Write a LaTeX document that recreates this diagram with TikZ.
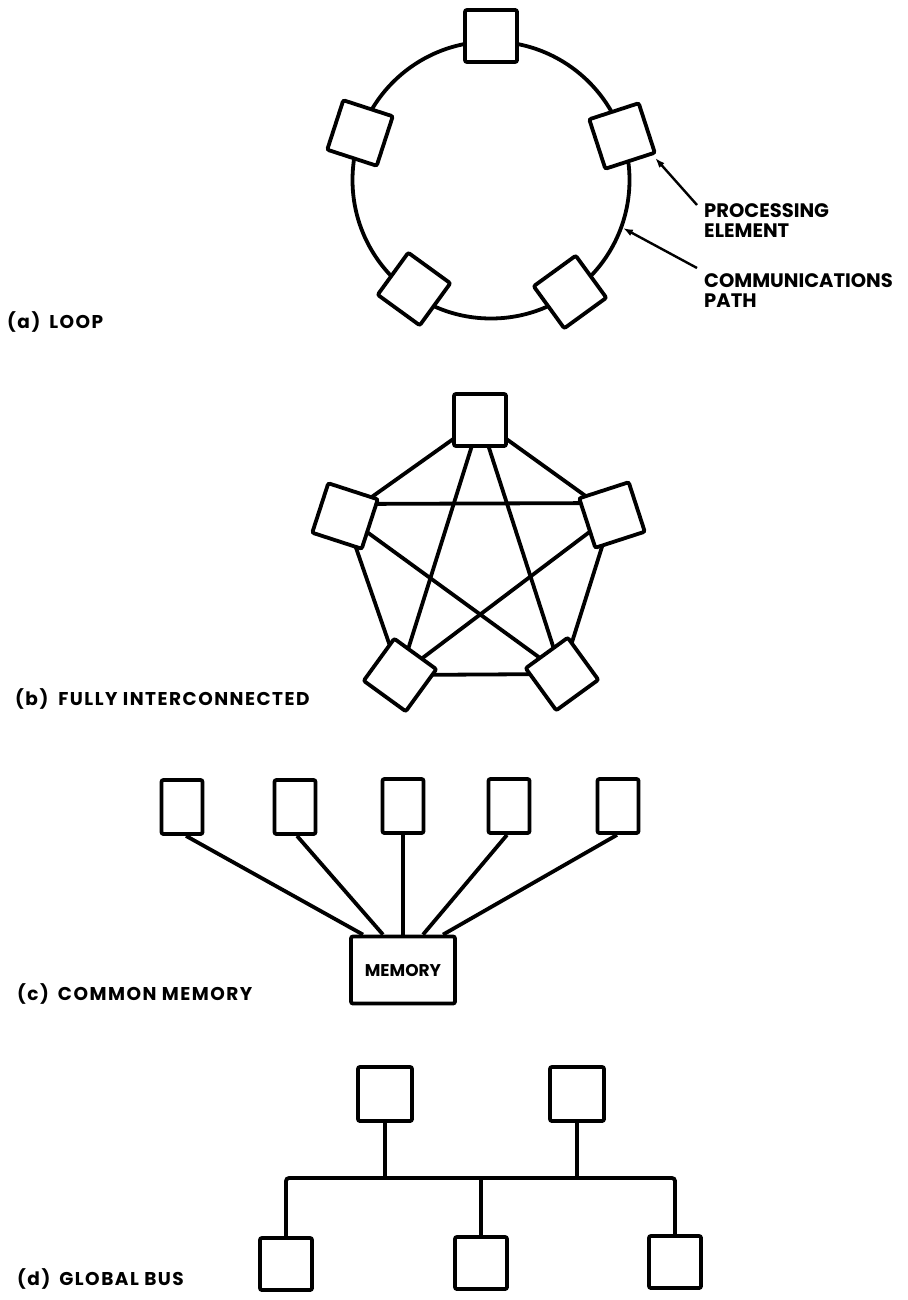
\documentclass[tikz,border=0pt]{standalone}
\usepackage{fontspec}
\setmainfont{Poppins}
\newfontfamily\capfont{Poppins}[LetterSpace=8]
\usetikzlibrary{arrows.meta,calc,backgrounds}

\begin{document}
\begin{tikzpicture}[x=1pt,y=-1pt,
  pe/.style={draw, line width=3.8pt, fill=white, rounded corners=2pt,
    minimum size=52pt, inner sep=0pt},
  tallpe/.style={pe, minimum width=41pt, minimum height=54pt},
  link/.style={line width=3.8pt},
  lbl/.style={font=\bfseries\fontsize{19.5}{22}\selectfont, inner sep=0pt, anchor=base west},
  caption/.style={font=\capfont\bfseries\fontsize{18.5}{22}\selectfont, inner sep=0pt, anchor=base west},
  ptr/.style={line width=2.4pt, -{Latex[length=10pt,width=7pt]}}
]
\useasboundingbox (0,0) rectangle (907,1300);

% ---------- (a) loop ----------
\node[circle, draw, line width=3.8pt, minimum size=277pt, inner sep=0pt] (ring) at (491,180) {};
\node[pe] (a1) at (491,36) {};
\node[pe, rotate=72] (a2) at (360,133) {};
\node[pe, rotate=18] (a3) at (622,136) {};
\node[pe, rotate=54] (a4) at (414,289) {};
\node[pe, rotate=36] (a5) at (570,292) {};

\node[lbl] (peL1) at (704,217) {PROCESSING};
\node[lbl] (peL2) at (704,237) {ELEMENT};
\node[lbl] (cpL1) at (704,287) {COMMUNICATIONS};
\node[lbl] (cpL2) at (704,307) {PATH};
\coordinate (peTail) at (697,205);
\coordinate (cpTail) at (697,268);
\draw[ptr] (peTail) -- ($(a3.south east)+(-2,4)$);
\draw[ptr] (cpTail) -- (ring.-20);

\node[caption] (capA) at (7,328) {(a)\hspace{9pt}LOOP};

% ---------- (b) fully interconnected ----------
\node[pe] (b1) at (480,420) {};
\node[pe, rotate=72] (b2) at (345,516) {};
\node[pe, rotate=18] (b3) at (612,515) {};
\node[pe, rotate=54] (b4) at (400,675) {};
\node[pe, rotate=36] (b5) at (562,674) {};
% links run behind the white-filled elements
\begin{pgfonlayer}{background}
  \foreach \p/\q in {b1/b2,b1/b3,b1/b4,b1/b5,b2/b4,b2/b5,b3/b4,b3/b5,b4/b5}
    \draw[link] (\p.center) -- (\q.center);
  \draw[link] ($(b2.center)+(0,-12)$) -- ($(b3.center)+(0,-12)$);
\end{pgfonlayer}

\node[caption] (capB) at (15,705) {(b)\hspace{10pt}FULLY INTERCONNECTED};

% ---------- (c) common memory ----------
\node[tallpe] (c1) at (182,807) {};
\node[tallpe] (c2) at (295,807) {};
\node[tallpe] (c3) at (403,806) {};
\node[tallpe] (c4) at (509,806) {};
\node[tallpe] (c5) at (618,806) {};
\node[pe, minimum width=104pt, minimum height=67pt, font=\bfseries\fontsize{17}{20}\selectfont] (mem) at (403,970) {MEMORY};
\draw[link] ([xshift=4pt]c1.south) -- ([xshift=-40pt]mem.north);
\draw[link] ([xshift=2pt]c2.south) -- ([xshift=-20pt]mem.north);
\draw[link] (c3.south) -- (mem.north);
\draw[link] ([xshift=-2pt]c4.south) -- ([xshift=20pt]mem.north);
\draw[link] ([xshift=-1pt]c5.south) -- ([xshift=40pt]mem.north);

\node[caption] (capC) at (17,1000) {(c)\hspace{9pt}COMMON MEMORY};

% ---------- (d) global bus ----------
\node[pe, minimum size=54pt] (t1) at (385,1094) {};
\node[pe, minimum size=54pt] (t2) at (577,1094) {};
\node[pe] (d1) at (286,1264) {};
\node[pe] (d2) at (481,1263) {};
\node[pe] (d3) at (675,1262) {};
\coordinate (bus) at (480,1178);
\draw[link, rounded corners=3pt] (d1.north) |- (bus) -| (d3.north);
\draw[link] (t1.south) -- (t1.south |- bus);
\draw[link] (t2.south) -- (t2.south |- bus);
\draw[link] (d2.north) -- (d2.north |- bus);

\node[caption] (capD) at (17,1285) {(d)\hspace{9pt}GLOBAL BUS};
\end{tikzpicture}
\end{document}
